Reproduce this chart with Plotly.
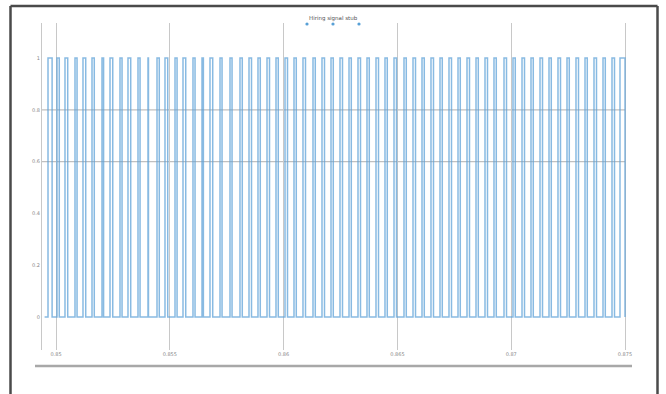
import plotly.graph_objects as go

# ---- data ----
title_text = "Hiring signal stub"
x_tick_vals = [0.85, 0.855, 0.86, 0.865, 0.87, 0.875]
x_tick_text = ["0.85", "0.855", "0.86", "0.865", "0.87", "0.875"]
y_tick_vals = [0, 0.2, 0.4, 0.6, 0.8, 1]
y_tick_text = ["0", "0.2", "0.4", "0.6", "0.8", "1"]

signal_start = 0.84950
signal_end = 0.87500
rising_edges = [
    0.849649, 0.850044, 0.850395, 0.850835, 0.851186, 0.851582, 0.852021, 0.852373,
    0.852812, 0.853163, 0.853603, 0.854042, 0.854438, 0.854789, 0.855229, 0.855580,
    0.856019, 0.856415, 0.856766, 0.857206, 0.857645, 0.858084, 0.858480, 0.858875,
    0.859271, 0.859666, 0.860062, 0.860457, 0.860852, 0.861292, 0.861687, 0.862083,
    0.862478, 0.862874, 0.863269, 0.863664, 0.864060, 0.864455, 0.864851, 0.865290,
    0.865686, 0.866081, 0.866476, 0.866872, 0.867267, 0.867663, 0.868058, 0.868454,
    0.868849, 0.869244, 0.869684, 0.870079, 0.870475, 0.870870, 0.871266, 0.871661,
    0.872056, 0.872452, 0.872847, 0.873243, 0.873638, 0.874034, 0.874429, 0.874780,
]
pulse_widths = [
    0.00018, 0.00010, 0.00012, 0.00009, 0.00012, 0.00010, 0.00007, 0.00012,
    0.00009, 0.00012, 0.00009, 0.00002, 0.00010, 0.00012, 0.00009, 0.00012,
    0.00009, 0.00006, 0.00012, 0.00009, 0.00009, 0.00010, 0.00011, 0.00010,
    0.00011, 0.00010, 0.00011, 0.00010, 0.00011, 0.00010, 0.00011, 0.00010,
    0.00011, 0.00010, 0.00011, 0.00010, 0.00011, 0.00010, 0.00011, 0.00010,
    0.00011, 0.00010, 0.00011, 0.00010, 0.00011, 0.00010, 0.00011, 0.00010,
    0.00011, 0.00010, 0.00011, 0.00010, 0.00011, 0.00010, 0.00011, 0.00010,
    0.00011, 0.00010, 0.00011, 0.00010, 0.00011, 0.00010, 0.00011, 0.00022,
]
low_level = 0
high_level = 1

# ---- build step trace ----
xs = [signal_start]
ys = [low_level]
for r, w in zip(rising_edges, pulse_widths):
    f = r + w
    xs += [r, r, f, f]
    ys += [low_level, high_level, high_level, low_level]
xs.append(signal_end)
ys.append(low_level)

fig = go.Figure()
fig.add_trace(go.Scatter(
    x=xs, y=ys, mode="lines",
    line=dict(color="rgba(90,160,215,0.72)", width=1.5),
    hoverinfo="skip", showlegend=False,
))

W, H = 666, 394
L, R, T, B = 42, 39, 23, 44
pw, ph = W - L - R, H - T - B

def px(x):
    return (x - L) / pw

def py(y):
    return (H - B - y) / ph

frame = dict(color="#4a4a4a", width=2.5)
shapes = []
# horizontal grid lines at 0.8 and 0.6
for gv in (0.8, 0.6):
    shapes.append(dict(type="line", xref="paper", yref="y", x0=0, x1=px(626), y0=gv, y1=gv,
                       line=dict(color="rgba(150,150,150,0.6)", width=1.2), layer="below"))
# outer frame (top, left, right)
shapes.append(dict(type="line", xref="paper", yref="paper",
                   x0=px(10.5), x1=px(657.5), y0=py(6), y1=py(6), line=frame))
shapes.append(dict(type="line", xref="paper", yref="paper",
                   x0=px(10.5), x1=px(10.5), y0=py(6), y1=py(400), line=frame))
shapes.append(dict(type="line", xref="paper", yref="paper",
                   x0=px(657.5), x1=px(657.5), y0=py(6), y1=py(400), line=frame))
# bottom bar
shapes.append(dict(type="line", xref="paper", yref="paper",
                   x0=px(35), x1=px(632), y0=py(366), y1=py(366),
                   line=dict(color="#a8a8a8", width=2.5)))
# three small markers under the title
for mx in (307, 333, 359):
    shapes.append(dict(type="circle", xref="paper", yref="paper",
                       x0=px(mx - 1.6), x1=px(mx + 1.6), y0=py(25.6), y1=py(22.4),
                       fillcolor="rgba(70,150,210,0.9)", line=dict(width=0)))

fig.update_layout(
    width=W, height=H,
    margin=dict(l=L, r=R, t=T, b=B),
    paper_bgcolor="white", plot_bgcolor="white",
    font=dict(family="DejaVu Sans", size=5, color="#777"),
    shapes=shapes,
    annotations=[dict(text=title_text, xref="paper", yref="paper",
                      x=px(333), y=py(19), showarrow=False,
                      font=dict(size=5.5, color="#555"),
                      xanchor="center", yanchor="middle")],
    xaxis=dict(range=[0.849385, 0.875088], tickvals=x_tick_vals, ticktext=x_tick_text,
               showgrid=True, gridcolor="#c8c8c8", gridwidth=1, zeroline=False,
               showline=False, ticks="", tickfont=dict(size=5, color="#888")),
    yaxis=dict(range=[-0.127, 1.135], tickvals=y_tick_vals, ticktext=y_tick_text,
               showgrid=False, zeroline=False, showline=True, linecolor="#c8c8c8",
               linewidth=1, ticks="", tickfont=dict(size=5, color="#888")),
)

fig.write_html("out.html", config={"displayModeBar": False},
               post_script="document.body.style.margin='0';document.body.style.overflow='hidden';")
